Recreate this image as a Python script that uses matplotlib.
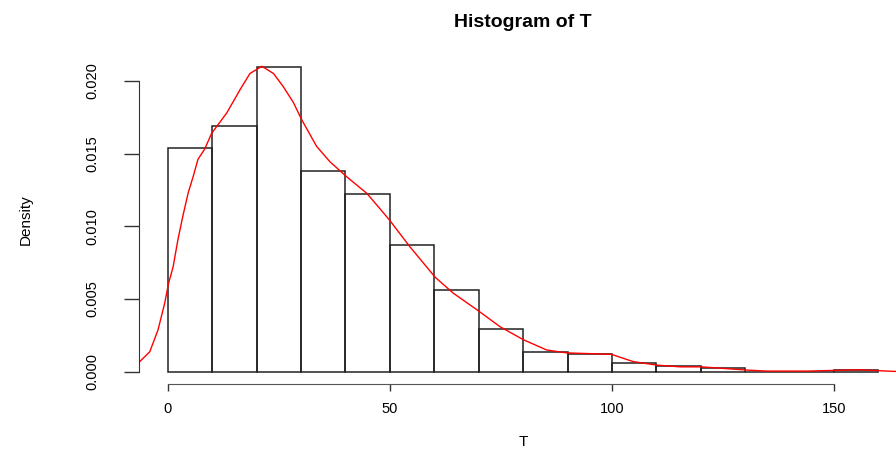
import numpy as np
import matplotlib
matplotlib.use('Agg')
import matplotlib.pyplot as plt

# histogram of T (density scale), bins of width 10
bin_edges = np.arange(0, 170, 10)
density = [0.01538, 0.01689, 0.02093, 0.01382, 0.01221, 0.00870, 0.00560,
           0.00297, 0.00134, 0.00120, 0.00063, 0.00039, 0.00025, 0.0, 0.0,
           0.00015]

# kernel density estimate drawn over the bars
kde_x = [-6.3, -4.05, -2.2, -0.7, 0.2, 1.2, 2.3, 3.4, 4.6, 5.7, 6.8, 8.3, 9.9,
         13.3, 16.3, 18.5, 21.2, 23.8, 26.0, 28.3, 30.2, 33.5, 36.5, 40.3,
         44.8, 47.8, 50.0, 54.5, 60.2, 64.3, 69.9, 74.8, 80.1, 85.3, 89.8,
         99.9, 104.8, 110.1, 115.4, 120.1, 130.3, 134.8, 143.9, 155.9, 163.3,
         167.0]
kde_y = [0.0007, 0.00138, 0.00287, 0.0047, 0.0061, 0.0072, 0.0091, 0.0107,
         0.0123, 0.0134, 0.0146, 0.0153, 0.0164, 0.0178, 0.0194, 0.0205,
         0.0210, 0.0205, 0.0196, 0.0185, 0.0173, 0.0155, 0.01444, 0.0134,
         0.01227, 0.0112, 0.0104, 0.0086, 0.0065, 0.0054, 0.0042, 0.0031,
         0.0022, 0.0015, 0.0013, 0.0012, 0.0007, 0.00046, 0.00034, 0.00034,
         0.00012, 0.00005, 0.00005, 0.00014, 0.00003, 0.00002]

plt.rcParams['font.family'] = ['Liberation Sans', 'DejaVu Sans']

fig = plt.figure(figsize=(8.96, 4.5), dpi=100)
ax = fig.add_axes([0.1555, 0.1467, 0.8566, 0.7309])

ax.bar(bin_edges[:-1], density, width=10, align='edge', fill=False,
       edgecolor='#222222', linewidth=1.1)
ax.plot(kde_x, kde_y, color='red', linewidth=1.0)

top = max(density)
ax.set_xlim(-6.4, 166.4)
ax.set_ylim(-0.04 * top, 1.04 * top)

# R-style axes: only left and bottom, spanning the tick range
for side in ('top', 'right'):
    ax.spines[side].set_visible(False)
ax.spines['left'].set_bounds(0, 0.020)
ax.spines['bottom'].set_bounds(0, 150)
ax.spines['left'].set_color('#333333')
ax.spines['bottom'].set_color('#555555')

ax.set_xticks([0, 50, 100, 150])
ax.set_yticks([0.0, 0.005, 0.010, 0.015, 0.020])
ax.set_yticklabels(['0.000', '0.005', '0.010', '0.015', '0.020'],
                   rotation=90, va='center')
ax.tick_params(axis='y', length=11, width=1.0, pad=18, labelsize=10.5,
               color='#333333')
ax.tick_params(axis='x', length=5, width=1.0, pad=8, labelsize=10.5,
               color='#333333')

ax.set_xlabel('T', fontsize=11, labelpad=14)
ax.set_ylabel('Density', fontsize=11, labelpad=38)
ax.set_title('Histogram of T', fontsize=14, fontweight='bold', pad=20)

fig.savefig('out.png', dpi=100)
